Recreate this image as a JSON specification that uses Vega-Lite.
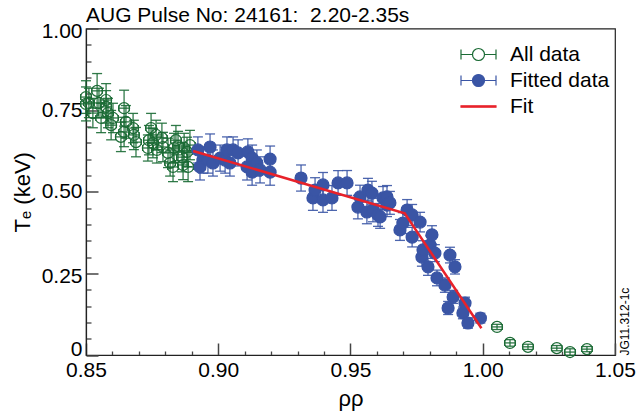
{
  "$schema": "https://vega.github.io/schema/vega-lite/v6.json",
  "width": 529,
  "height": 326.5,
  "autosize": {"type": "none"},
  "padding": {"left": 86, "top": 28.5, "right": 23, "bottom": 59},
  "background": "white",
  "config": {
    "font": "Liberation Sans",
    "view": {"stroke": "#222", "strokeWidth": 1.2},
    "axis": {"grid": false, "labelFont": "Liberation Sans", "titleFont": "Liberation Sans", "labelColor": "black", "titleColor": "black", "titleFontWeight": "normal"},
    "legend": {"title": null, "orient": "none", "legendX": 381.5, "legendY": 15, "padding": 0, "labelFontSize": 21, "labelFont": "Liberation Sans", "labelColor": "black", "labelOffset": 20.5, "symbolSize": 400, "symbolOpacity": 1, "rowPadding": 5}
  },
  "title": {"text": "AUG Pulse No: 24161: \u00a02.20-2.35s", "anchor": "start", "frame": "group", "fontSize": 21, "fontWeight": "normal", "font": "Liberation Sans", "color": "black", "baseline": "alphabetic", "offset": -22.5},
  "datasets": {
    "profile": [
      {"rho": 0.8500, "te": 0.790, "err": 0.050, "xerr": 0.002, "series": "All data"},
      {"rho": 0.8500, "te": 0.769, "err": 0.052, "xerr": 0.002, "series": "All data"},
      {"rho": 0.8511, "te": 0.772, "err": 0.045, "xerr": 0.002, "series": "All data"},
      {"rho": 0.8526, "te": 0.741, "err": 0.045, "xerr": 0.002, "series": "All data"},
      {"rho": 0.8542, "te": 0.809, "err": 0.053, "xerr": 0.002, "series": "All data"},
      {"rho": 0.8549, "te": 0.772, "err": 0.045, "xerr": 0.002, "series": "All data"},
      {"rho": 0.8557, "te": 0.726, "err": 0.045, "xerr": 0.002, "series": "All data"},
      {"rho": 0.8576, "te": 0.760, "err": 0.050, "xerr": 0.002, "series": "All data"},
      {"rho": 0.8576, "te": 0.781, "err": 0.050, "xerr": 0.002, "series": "All data"},
      {"rho": 0.8583, "te": 0.741, "err": 0.045, "xerr": 0.002, "series": "All data"},
      {"rho": 0.8595, "te": 0.704, "err": 0.045, "xerr": 0.002, "series": "All data"},
      {"rho": 0.8602, "te": 0.726, "err": 0.045, "xerr": 0.002, "series": "All data"},
      {"rho": 0.8632, "te": 0.668, "err": 0.045, "xerr": 0.002, "series": "All data"},
      {"rho": 0.8644, "te": 0.756, "err": 0.055, "xerr": 0.002, "series": "All data"},
      {"rho": 0.8644, "te": 0.683, "err": 0.045, "xerr": 0.002, "series": "All data"},
      {"rho": 0.8651, "te": 0.714, "err": 0.050, "xerr": 0.002, "series": "All data"},
      {"rho": 0.8678, "te": 0.695, "err": 0.045, "xerr": 0.002, "series": "All data"},
      {"rho": 0.8681, "te": 0.674, "err": 0.045, "xerr": 0.002, "series": "All data"},
      {"rho": 0.8689, "te": 0.652, "err": 0.045, "xerr": 0.002, "series": "All data"},
      {"rho": 0.8734, "te": 0.634, "err": 0.040, "xerr": 0.002, "series": "All data"},
      {"rho": 0.8738, "te": 0.658, "err": 0.045, "xerr": 0.002, "series": "All data"},
      {"rho": 0.8746, "te": 0.695, "err": 0.045, "xerr": 0.002, "series": "All data"},
      {"rho": 0.8753, "te": 0.649, "err": 0.045, "xerr": 0.002, "series": "All data"},
      {"rho": 0.8765, "te": 0.674, "err": 0.045, "xerr": 0.002, "series": "All data"},
      {"rho": 0.8768, "te": 0.628, "err": 0.040, "xerr": 0.002, "series": "All data"},
      {"rho": 0.8787, "te": 0.665, "err": 0.045, "xerr": 0.002, "series": "All data"},
      {"rho": 0.8791, "te": 0.637, "err": 0.045, "xerr": 0.002, "series": "All data"},
      {"rho": 0.8810, "te": 0.619, "err": 0.045, "xerr": 0.002, "series": "All data"},
      {"rho": 0.8818, "te": 0.588, "err": 0.040, "xerr": 0.002, "series": "All data"},
      {"rho": 0.8829, "te": 0.576, "err": 0.045, "xerr": 0.002, "series": "All data"},
      {"rho": 0.8833, "te": 0.634, "err": 0.045, "xerr": 0.002, "series": "All data"},
      {"rho": 0.8840, "te": 0.658, "err": 0.045, "xerr": 0.002, "series": "All data"},
      {"rho": 0.8848, "te": 0.640, "err": 0.045, "xerr": 0.002, "series": "All data"},
      {"rho": 0.8863, "te": 0.606, "err": 0.045, "xerr": 0.002, "series": "All data"},
      {"rho": 0.8867, "te": 0.582, "err": 0.045, "xerr": 0.002, "series": "All data"},
      {"rho": 0.8871, "te": 0.634, "err": 0.045, "xerr": 0.002, "series": "All data"},
      {"rho": 0.8882, "te": 0.622, "err": 0.045, "xerr": 0.002, "series": "All data"},
      {"rho": 0.8886, "te": 0.576, "err": 0.045, "xerr": 0.002, "series": "All data"},
      {"rho": 0.8893, "te": 0.643, "err": 0.045, "xerr": 0.002, "series": "All data"},
      {"rho": 1.0054, "te": 0.086, "err": 0.008, "xerr": 0.002, "series": "All data"},
      {"rho": 1.0103, "te": 0.037, "err": 0.010, "xerr": 0.002, "series": "All data"},
      {"rho": 1.0171, "te": 0.025, "err": 0.008, "xerr": 0.002, "series": "All data"},
      {"rho": 1.0280, "te": 0.021, "err": 0.008, "xerr": 0.002, "series": "All data"},
      {"rho": 1.0330, "te": 0.009, "err": 0.010, "xerr": 0.002, "series": "All data"},
      {"rho": 1.0394, "te": 0.018, "err": 0.008, "xerr": 0.002, "series": "All data"},
      {"rho": 0.8923, "te": 0.628, "err": 0.040, "xerr": 0.002, "series": "Fitted data"},
      {"rho": 0.8942, "te": 0.597, "err": 0.040, "xerr": 0.002, "series": "Fitted data"},
      {"rho": 0.8931, "te": 0.576, "err": 0.040, "xerr": 0.002, "series": "Fitted data"},
      {"rho": 0.8969, "te": 0.637, "err": 0.040, "xerr": 0.002, "series": "Fitted data"},
      {"rho": 0.8961, "te": 0.597, "err": 0.040, "xerr": 0.002, "series": "Fitted data"},
      {"rho": 0.8980, "te": 0.588, "err": 0.040, "xerr": 0.002, "series": "Fitted data"},
      {"rho": 0.9007, "te": 0.603, "err": 0.040, "xerr": 0.002, "series": "Fitted data"},
      {"rho": 0.9026, "te": 0.597, "err": 0.040, "xerr": 0.002, "series": "Fitted data"},
      {"rho": 0.9033, "te": 0.628, "err": 0.040, "xerr": 0.002, "series": "Fitted data"},
      {"rho": 0.9044, "te": 0.588, "err": 0.040, "xerr": 0.002, "series": "Fitted data"},
      {"rho": 0.9056, "te": 0.628, "err": 0.040, "xerr": 0.002, "series": "Fitted data"},
      {"rho": 0.9075, "te": 0.619, "err": 0.040, "xerr": 0.002, "series": "Fitted data"},
      {"rho": 0.9109, "te": 0.576, "err": 0.040, "xerr": 0.002, "series": "Fitted data"},
      {"rho": 0.9112, "te": 0.622, "err": 0.040, "xerr": 0.002, "series": "Fitted data"},
      {"rho": 0.9128, "te": 0.603, "err": 0.040, "xerr": 0.002, "series": "Fitted data"},
      {"rho": 0.9128, "te": 0.560, "err": 0.040, "xerr": 0.002, "series": "Fitted data"},
      {"rho": 0.9146, "te": 0.588, "err": 0.040, "xerr": 0.002, "series": "Fitted data"},
      {"rho": 0.9158, "te": 0.567, "err": 0.040, "xerr": 0.002, "series": "Fitted data"},
      {"rho": 0.9196, "te": 0.600, "err": 0.040, "xerr": 0.002, "series": "Fitted data"},
      {"rho": 0.9196, "te": 0.560, "err": 0.040, "xerr": 0.002, "series": "Fitted data"},
      {"rho": 0.9313, "te": 0.542, "err": 0.040, "xerr": 0.002, "series": "Fitted data"},
      {"rho": 0.9358, "te": 0.481, "err": 0.038, "xerr": 0.002, "series": "Fitted data"},
      {"rho": 0.9366, "te": 0.505, "err": 0.038, "xerr": 0.002, "series": "Fitted data"},
      {"rho": 0.9396, "te": 0.521, "err": 0.038, "xerr": 0.002, "series": "Fitted data"},
      {"rho": 0.9396, "te": 0.475, "err": 0.038, "xerr": 0.002, "series": "Fitted data"},
      {"rho": 0.9430, "te": 0.481, "err": 0.038, "xerr": 0.002, "series": "Fitted data"},
      {"rho": 0.9453, "te": 0.527, "err": 0.038, "xerr": 0.002, "series": "Fitted data"},
      {"rho": 0.9487, "te": 0.527, "err": 0.038, "xerr": 0.002, "series": "Fitted data"},
      {"rho": 0.9528, "te": 0.453, "err": 0.036, "xerr": 0.002, "series": "Fitted data"},
      {"rho": 0.9536, "te": 0.484, "err": 0.036, "xerr": 0.002, "series": "Fitted data"},
      {"rho": 0.9562, "te": 0.438, "err": 0.036, "xerr": 0.002, "series": "Fitted data"},
      {"rho": 0.9566, "te": 0.505, "err": 0.036, "xerr": 0.002, "series": "Fitted data"},
      {"rho": 0.9581, "te": 0.496, "err": 0.036, "xerr": 0.002, "series": "Fitted data"},
      {"rho": 0.9585, "te": 0.444, "err": 0.036, "xerr": 0.002, "series": "Fitted data"},
      {"rho": 0.9604, "te": 0.429, "err": 0.035, "xerr": 0.002, "series": "Fitted data"},
      {"rho": 0.9612, "te": 0.423, "err": 0.035, "xerr": 0.002, "series": "Fitted data"},
      {"rho": 0.9623, "te": 0.481, "err": 0.035, "xerr": 0.002, "series": "Fitted data"},
      {"rho": 0.9638, "te": 0.459, "err": 0.035, "xerr": 0.002, "series": "Fitted data"},
      {"rho": 0.9638, "te": 0.484, "err": 0.035, "xerr": 0.002, "series": "Fitted data"},
      {"rho": 0.9649, "te": 0.466, "err": 0.035, "xerr": 0.002, "series": "Fitted data"},
      {"rho": 0.9687, "te": 0.383, "err": 0.032, "xerr": 0.002, "series": "Fitted data"},
      {"rho": 0.9698, "te": 0.404, "err": 0.032, "xerr": 0.002, "series": "Fitted data"},
      {"rho": 0.9714, "te": 0.444, "err": 0.032, "xerr": 0.002, "series": "Fitted data"},
      {"rho": 0.9733, "te": 0.429, "err": 0.032, "xerr": 0.002, "series": "Fitted data"},
      {"rho": 0.9733, "te": 0.361, "err": 0.030, "xerr": 0.002, "series": "Fitted data"},
      {"rho": 0.9763, "te": 0.407, "err": 0.030, "xerr": 0.002, "series": "Fitted data"},
      {"rho": 0.9770, "te": 0.300, "err": 0.028, "xerr": 0.002, "series": "Fitted data"},
      {"rho": 0.9774, "te": 0.322, "err": 0.028, "xerr": 0.002, "series": "Fitted data"},
      {"rho": 0.9793, "te": 0.270, "err": 0.026, "xerr": 0.002, "series": "Fitted data"},
      {"rho": 0.9801, "te": 0.337, "err": 0.028, "xerr": 0.002, "series": "Fitted data"},
      {"rho": 0.9808, "te": 0.368, "err": 0.028, "xerr": 0.002, "series": "Fitted data"},
      {"rho": 0.9819, "te": 0.312, "err": 0.026, "xerr": 0.002, "series": "Fitted data"},
      {"rho": 0.9827, "te": 0.236, "err": 0.024, "xerr": 0.002, "series": "Fitted data"},
      {"rho": 0.9857, "te": 0.214, "err": 0.022, "xerr": 0.002, "series": "Fitted data"},
      {"rho": 0.9869, "te": 0.144, "err": 0.020, "xerr": 0.002, "series": "Fitted data"},
      {"rho": 0.9876, "te": 0.306, "err": 0.024, "xerr": 0.002, "series": "Fitted data"},
      {"rho": 0.9888, "te": 0.178, "err": 0.020, "xerr": 0.002, "series": "Fitted data"},
      {"rho": 0.9895, "te": 0.270, "err": 0.022, "xerr": 0.002, "series": "Fitted data"},
      {"rho": 0.9925, "te": 0.129, "err": 0.018, "xerr": 0.002, "series": "Fitted data"},
      {"rho": 0.9933, "te": 0.159, "err": 0.018, "xerr": 0.002, "series": "Fitted data"},
      {"rho": 0.9944, "te": 0.098, "err": 0.016, "xerr": 0.002, "series": "Fitted data"},
      {"rho": 0.9991, "te": 0.113, "err": 0.015, "xerr": 0.002, "series": "Fitted data"}
    ],
    "fit": [
      {"rho": 0.8905, "te": 0.625, "series": "Fit"},
      {"rho": 0.9705, "te": 0.434, "series": "Fit"},
      {"rho": 0.9995, "te": 0.082, "series": "Fit"}
    ]
  },
  "layer": [
    {
      "data": {"name": "profile"},
      "transform": [
        {"calculate": "datum.te - datum.err", "as": "lo"},
        {"calculate": "datum.te + datum.err", "as": "hi"}
      ],
      "mark": {"type": "rule", "strokeWidth": 1.3, "opacity": 0.9},
      "encoding": {
        "x": {"field": "rho", "type": "quantitative", "scale": {"domain": [0.85, 1.05], "nice": false, "zero": false},
          "axis": {"orient": "bottom", "values": [0.86, 0.87, 0.88, 0.89, 0.91, 0.92, 0.93, 0.94, 0.96, 0.97, 0.98, 0.99, 1.01, 1.02, 1.03, 1.04], "tickSize": -4, "tickColor": "#444", "tickWidth": 1.3, "labels": false, "domain": false, "title": null}},
        "y": {"field": "lo", "type": "quantitative", "scale": {"domain": [0, 1], "nice": false, "zero": false},
          "axis": {"orient": "left", "values": [0.05, 0.1, 0.15, 0.2, 0.3, 0.35, 0.4, 0.45, 0.55, 0.6, 0.65, 0.7, 0.8, 0.85, 0.9, 0.95], "tickSize": -5, "tickColor": "#444", "tickWidth": 1.3, "labels": false, "domain": false, "title": null}},
        "y2": {"field": "hi"},
        "color": {"field": "series", "type": "nominal", "scale": {"domain": ["All data", "Fitted data", "Fit"], "range": ["#1b6b35", "#3a55a5", "#e8222a"]}, "legend": null}
      }
    },
    {
      "data": {"name": "profile"},
      "transform": [
        {"calculate": "datum.te - datum.err", "as": "lo"},
        {"calculate": "datum.te + datum.err", "as": "hi"},
        {"fold": ["lo", "hi"], "as": ["end", "cap"]}
      ],
      "mark": {"type": "tick", "orient": "horizontal", "size": 10, "thickness": 1.3, "opacity": 0.9},
      "encoding": {
        "x": {"field": "rho", "type": "quantitative", "axis": null},
        "y": {"field": "cap", "type": "quantitative",
          "axis": {"orient": "right", "ticks": false, "labels": false, "domain": false, "title": "JG11.312-1c", "titleFontSize": 12, "titleAngle": 270, "titleAnchor": "start", "titleAlign": "left", "titleBaseline": "top", "titlePadding": 4}},
        "color": {"field": "series", "type": "nominal", "legend": null}
      }
    },
    {
      "data": {"name": "profile"},
      "transform": [
        {"calculate": "datum.rho - datum.xerr", "as": "xlo"},
        {"calculate": "datum.rho + datum.xerr", "as": "xhi"}
      ],
      "mark": {"type": "rule", "strokeWidth": 1.2},
      "encoding": {
        "x": {"field": "xlo", "type": "quantitative", "axis": null},
        "x2": {"field": "xhi"},
        "y": {"field": "te", "type": "quantitative", "axis": null},
        "color": {"field": "series", "type": "nominal", "legend": null}
      }
    },
    {
      "data": {"name": "profile"},
      "transform": [
        {"calculate": "datum.rho - datum.xerr", "as": "xlo"},
        {"calculate": "datum.rho + datum.xerr", "as": "xhi"},
        {"fold": ["xlo", "xhi"], "as": ["side", "xcap"]}
      ],
      "mark": {"type": "tick", "orient": "vertical", "size": 6, "thickness": 1.2, "opacity": 1},
      "encoding": {
        "x": {"field": "xcap", "type": "quantitative", "axis": null},
        "y": {"field": "te", "type": "quantitative", "axis": null},
        "color": {"field": "series", "type": "nominal", "legend": null}
      }
    },
    {
      "data": {"name": "profile"},
      "mark": {"type": "point", "shape": "circle", "filled": false, "strokeWidth": 1.2, "opacity": 1},
      "encoding": {
        "x": {"field": "rho", "type": "quantitative",
          "axis": {"orient": "bottom", "values": [0.85, 0.9, 0.95, 1, 1.05], "format": ".2f", "tickSize": -12, "tickColor": "#444", "tickWidth": 1.5, "domainColor": "#222", "domainWidth": 1.2, "labelFontSize": 21, "labelPadding": 16, "labelFlush": false, "title": "ρρ", "titleFontSize": 22, "titlePadding": 8}},
        "y": {"field": "te", "type": "quantitative",
          "axis": {"orient": "left", "values": [0, 0.25, 0.5, 0.75, 1], "labelExpr": "datum.value === 0 ? '0' : format(datum.value, '.2f')",
            "labelOffset": {"condition": [{"test": "datum.value === 0", "value": -6}, {"test": "datum.value === 1", "value": 2.5}, {"test": "datum.value === 0.25", "value": 3}], "value": 0},
            "tickSize": -12, "tickColor": "#444", "tickWidth": 1.5, "domainColor": "#222", "domainWidth": 1.2, "labelFontSize": 21, "labelPadding": 16, "labelFlush": false, "title": "Tₑ (keV)", "titleFontSize": 22, "titlePadding": 7}},
        "color": {"field": "series", "type": "nominal", "legend": null},
        "fill": {"condition": {"test": "datum.series === 'Fitted data'", "value": "#3a55a5"}, "value": "transparent"},
        "size": {"condition": {"test": "datum.series === 'Fitted data'", "value": 144}, "value": 121}
      }
    },
    {
      "data": {"name": "fit"},
      "mark": {"type": "line", "strokeWidth": 2.5},
      "encoding": {
        "x": {"field": "rho", "type": "quantitative", "axis": null},
        "y": {"field": "te", "type": "quantitative", "axis": null},
        "color": {"field": "series", "type": "nominal", "legend": null}
      }
    },
    {
      "description": "Legend key: an invisible copy of the points that carries the series legend with error-bar symbols.",
      "data": {"name": "profile"},
      "mark": {"type": "point", "opacity": 0, "size": 400},
      "encoding": {
        "x": {"field": "rho", "type": "quantitative", "axis": null},
        "y": {"field": "te", "type": "quantitative", "axis": null},
        "color": {"field": "series", "type": "nominal"},
        "shape": {"field": "series", "type": "nominal",
          "scale": {"domain": ["All data", "Fitted data", "Fit"], "range": [
            "M-1.75,-0.5V0.5M-1.75,0H-0.6M0.6,0H1.75M1.75,-0.5V0.5M-0.6,0A0.6,0.6 0 1,0 0.6,0A0.6,0.6 0 1,0 -0.6,0Z",
            "M-1.75,-0.5V0.5M-1.75,0H-0.6M0.6,0H1.75M1.75,-0.5V0.5M-0.6,0A0.6,0.6 0 1,0 0.6,0A0.6,0.6 0 1,0 -0.6,0Z",
            "M-1.75,-0.07H1.75V0.07H-1.75Z"]}},
        "fill": {"field": "series", "type": "nominal",
          "scale": {"domain": ["All data", "Fitted data", "Fit"], "range": ["transparent", "#3a55a5", "#e8222a"]}},
        "strokeWidth": {"field": "series", "type": "ordinal",
          "scale": {"domain": ["All data", "Fitted data", "Fit"], "range": [1.2, 1.2, 1.2]}}
      }
    }
  ],
  "resolve": {
    "axis": {"x": "independent", "y": "independent"},
    "legend": {"color": "independent", "shape": "independent", "fill": "independent", "strokeWidth": "independent"}
  }
}
